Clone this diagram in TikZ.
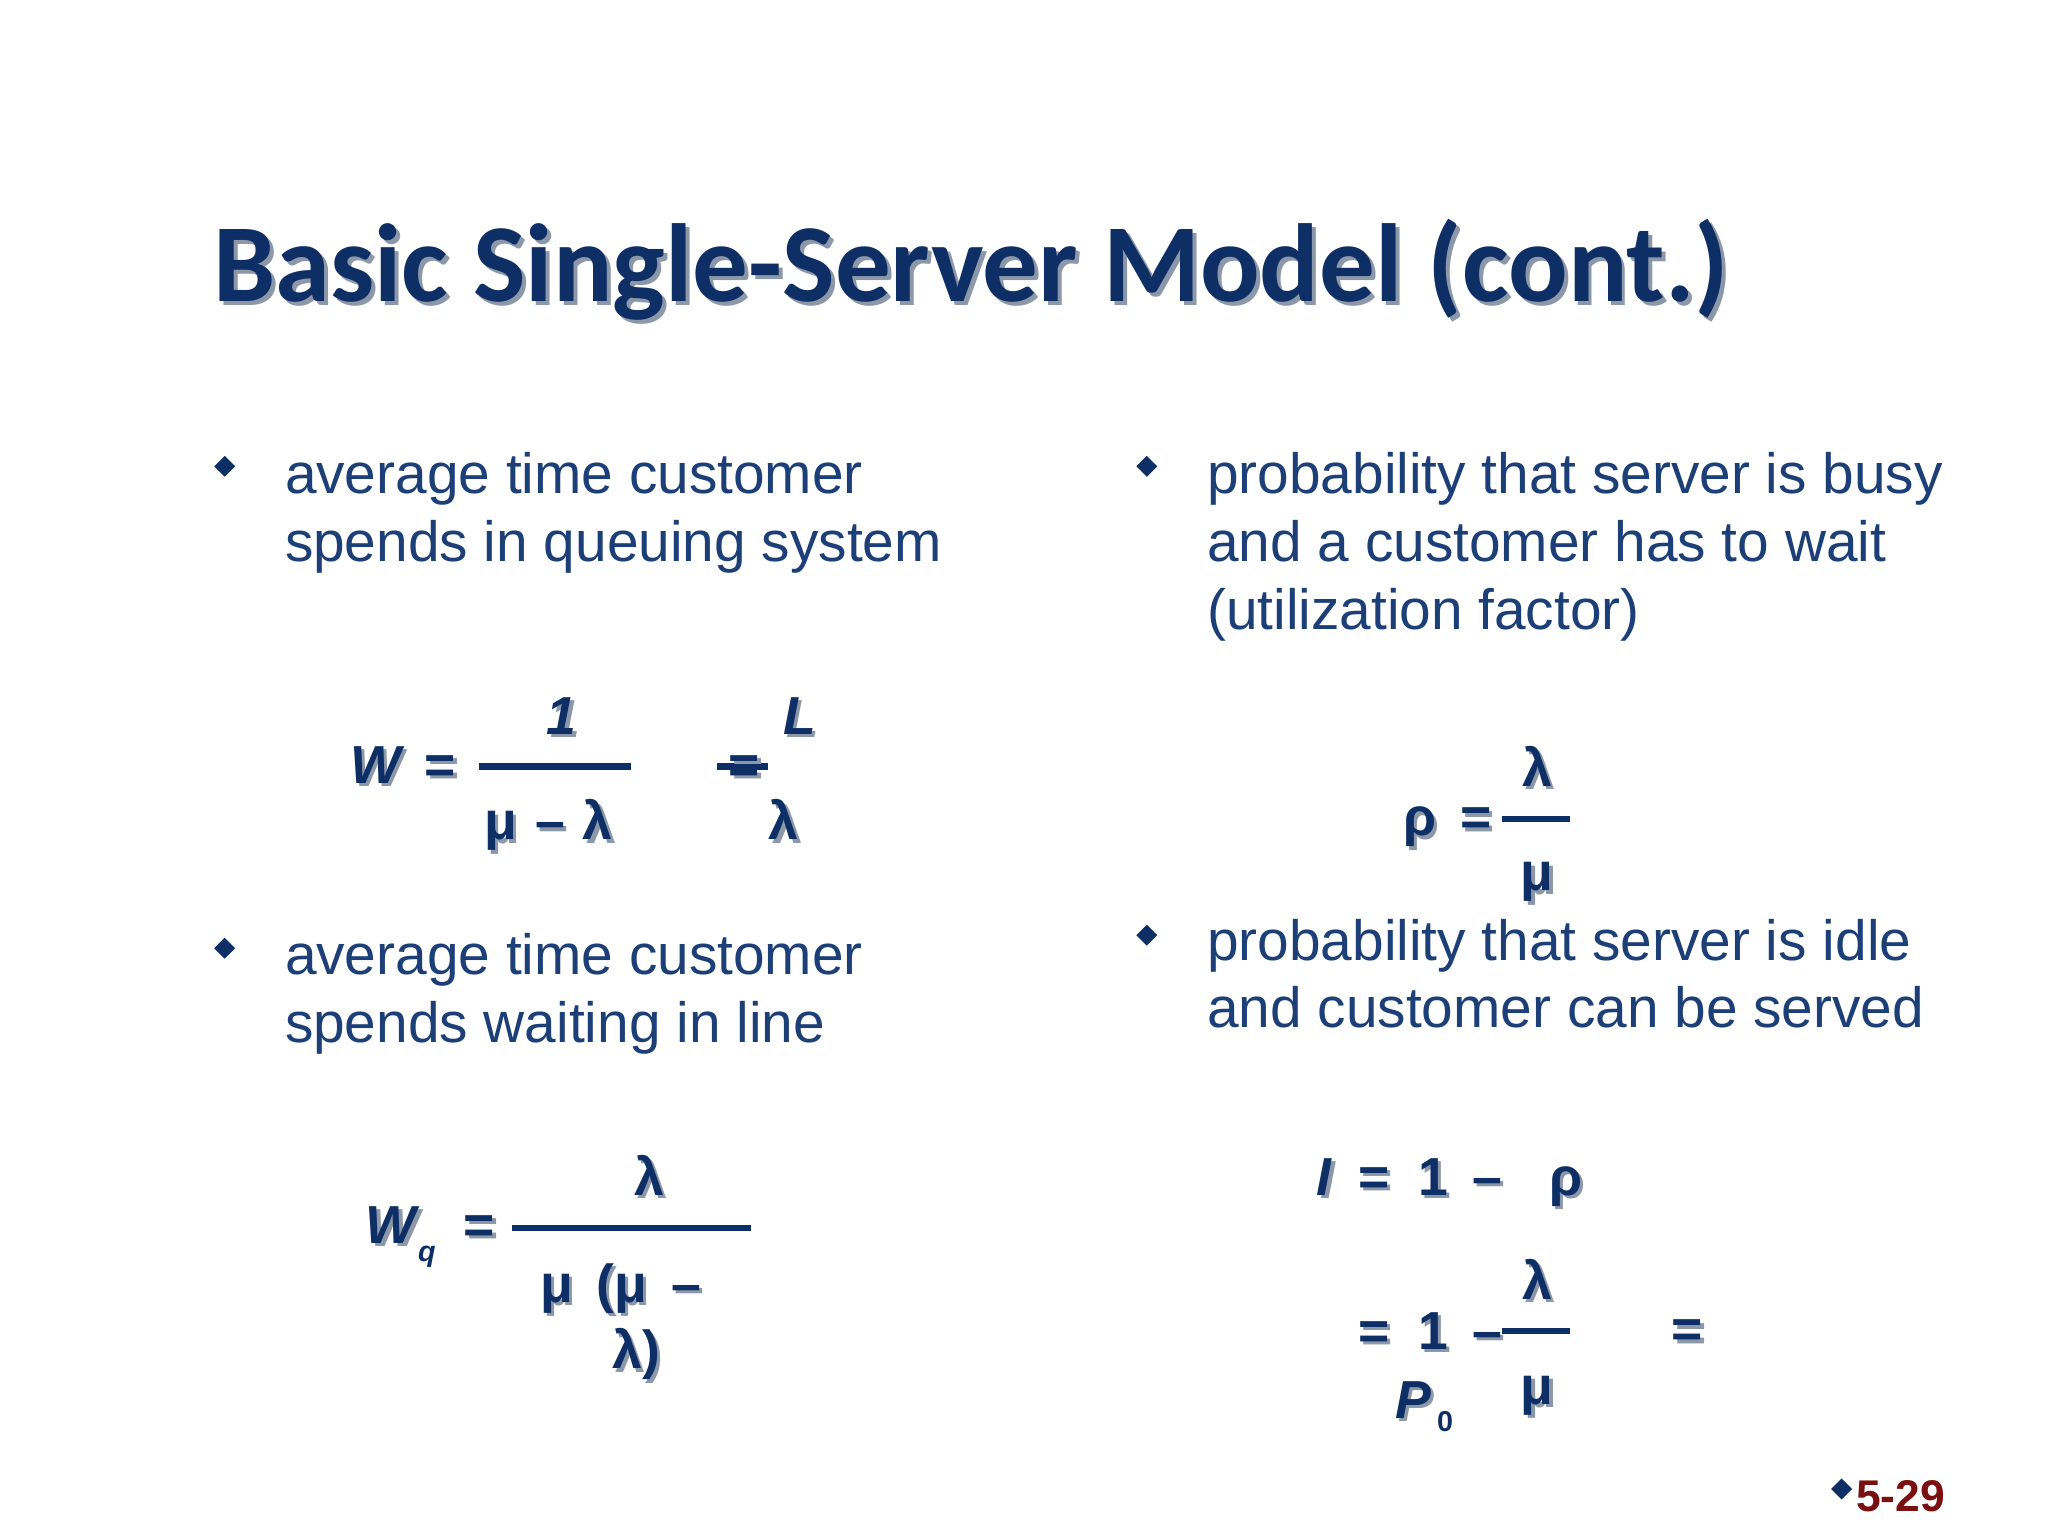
\documentclass[tikz,border=0pt]{standalone}
\usepackage{fontspec}
\setmainfont{Liberation Sans}
\newfontfamily\titlefont{Carlito}
\definecolor{txt}{HTML}{1C3F78}
\definecolor{navy}{HTML}{0E2F66}
\definecolor{shad}{HTML}{8C97A8}
\definecolor{pgred}{HTML}{7A1010}
\newcommand{\shd}[4]{%
 \node[shadowtxt,anchor=#2] at ([shift={(2.5,2.5)}]#1) {#4};
 \node[mathtxt,anchor=#2] (#3) at (#1) {#4};}
\tikzset{
 body/.style={text=txt,font=\fontsize{43.5}{52}\selectfont,anchor=base west,inner sep=0},
 mathtxt/.style={text=navy,font=\fontsize{41}{48}\selectfont\bfseries,inner sep=0},
 shadowtxt/.style={text=shad,font=\fontsize{41}{48}\selectfont\bfseries,inner sep=0},
 fracline/.style={draw=navy,line width=5pt},
}
\begin{document}
\begin{tikzpicture}[x=1pt,y=-1pt]
\useasboundingbox[fill=white] (0,0) rectangle (1568,1176);
% title
\node[anchor=base west,inner sep=0,text=shad,font=\fontsize{85}{90}\selectfont\titlefont\bfseries] at (166,234) {Basic Single-Server Model (cont.)};
\node[anchor=base west,inner sep=0,text=navy,font=\fontsize{85}{90}\selectfont\titlefont\bfseries] (title) at (163,231) {Basic Single-Server Model (cont.)};
% bullets
\foreach \x/\y in {172/357,172/726,878/357,878/716,1410/1140}
  \fill[navy] (\x,\y-8) -- (\x+8,\y) -- (\x,\y+8) -- (\x-8,\y) -- cycle;
\node[body] (t1a) at (218,378) {average time customer};
\node[body] (t1b) at (218,430) {spends in queuing system};
\node[body] (t2a) at (218,746) {average time customer};
\node[body] (t2b) at (218,798) {spends waiting in line};
\node[body] (t3a) at (924,378) {probability that server is busy};
\node[body] (t3b) at (924,430) {and a customer has to wait};
\node[body] (t3c) at (924,482) {(utilization factor)};
\node[body] (t4a) at (924,735) {probability that server is idle};
\node[body] (t4b) at (924,787) {and customer can be served};
% W formula
\shd{268,600}{base west}{w}{\itshape W}
\shd{325,600}{base west}{weq1}{=}
\draw[fracline] (367,587) -- (483,587);
\shd{430,562}{base}{w1}{\itshape 1}
\shd{420,643}{base}{wml}{μ\,\,–\,\,λ}
\draw[fracline] (549,587) -- (588,587);
\shd{570,600}{base}{weq}{=}
\shd{612,562}{base}{wl}{\itshape L}
\shd{600,643}{base}{wlam}{λ}
% rho
\shd{1074,640}{base west}{rho}{ρ}
\shd{1118,640}{base west}{rhoeq}{=}
\draw[fracline] (1150,627) -- (1202,627);
\shd{1177,602}{base}{rl}{λ}
\shd{1177,682}{base}{rm}{μ}
% Wq
\shd{280,952}{base west}{wq}{\itshape W}
\node[mathtxt,anchor=base west,font=\fontsize{22}{24}\selectfont\bfseries\itshape] (q) at (320,966) {q};
\shd{355,952}{base west}{wqeq}{=}
\draw[fracline] (392,940) -- (575,940);
\shd{497,915}{base}{wqn}{λ}
\shd{475,997}{base}{wqd1}{μ\, (μ\, –}
\shd{487,1048}{base}{wqd2}{λ)}
% I
\shd{1008,915}{base west}{I}{\itshape I}
\shd{1040,915}{base west}{Ieq}{=}
\shd{1086,915}{base west}{I1}{1}
\shd{1127,915}{base west}{Im}{–}
\shd{1186,915}{base west}{Irho}{ρ}
\shd{1040,1033}{base west}{eq2}{=}
\shd{1086,1033}{base west}{eq2b}{1}
\shd{1127,1033}{base west}{eq2c}{–}
\draw[fracline] (1150,1019) -- (1202,1019);
\shd{1177,995}{base}{il}{λ}
\shd{1177,1075}{base}{im}{μ}
\shd{1068,1086}{base west}{P}{\itshape P}
\node[mathtxt,anchor=base west,font=\fontsize{22}{24}\selectfont\bfseries] (zero) at (1100,1096) {0};
\shd{1292,1032}{base}{eq3}{=}
% page
\node[anchor=base west,inner sep=0,text=pgred,font=\fontsize{34}{40}\selectfont\bfseries] (pg) at (1421,1157) {5-29};
\end{tikzpicture}
\end{document}
